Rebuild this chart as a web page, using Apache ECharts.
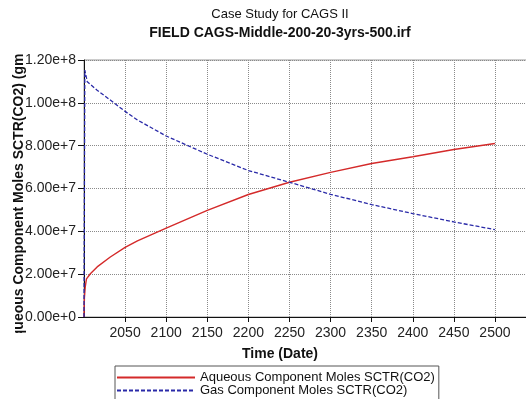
<!DOCTYPE html>
<html>
<head>
<meta charset="utf-8">
<script src="https://cdn.jsdelivr.net/npm/echarts@6/dist/echarts.min.js"></script>
<style>
  html, body { margin: 0; padding: 0; background: #fff; }
  #chart { width: 526px; height: 399px; }
</style>
</head>
<body>
<div id="chart"></div>
<script>
// Aqueous CO2 moles over time
const aqYears = [2000, 2000.5, 2001.5, 2003, 2008, 2016, 2032, 2050, 2065, 2100, 2150, 2200, 2250, 2300, 2350, 2400, 2450, 2500];
const aqMoles = [0, 0.9e7, 1.4e7, 1.78e7, 2.03e7, 2.34e7, 2.8e7, 3.25e7, 3.55e7, 4.15e7, 4.98e7, 5.72e7, 6.29e7, 6.75e7, 7.17e7, 7.48e7, 7.82e7, 8.1e7];

// Gas-phase CO2 moles over time
const gasYears = [2000, 2001, 2004, 2016, 2032, 2050, 2065, 2100, 2150, 2200, 2250, 2300, 2350, 2400, 2450, 2500];
const gasMoles = [0, 1.153e8, 1.098e8, 1.059e8, 1.013e8, 9.6e7, 9.2e7, 8.45e7, 7.6e7, 6.84e7, 6.29e7, 5.73e7, 5.25e7, 4.83e7, 4.44e7, 4.08e7];

const yTickLabels = ['0.00e+0', '2.00e+7', '4.00e+7', '6.00e+7', '8.00e+7', '1.00e+8', '1.20e+8'];
const seriesNames = ['Aqueous Component Moles SCTR(CO2)', 'Gas Component Moles SCTR(CO2)'];

const pair = (xs, ys) => xs.map((x, i) => [x, ys[i]]);

const chart = echarts.init(document.getElementById('chart'));
const FONT = 'Liberation Sans, Arial, sans-serif';
const gridLine = { show: true, lineStyle: { color: '#8a8a8a', type: [1, 1], width: 1 } };

chart.setOption({
  animation: false,
  backgroundColor: '#fff',
  textStyle: { fontFamily: FONT },
  title: [
    { text: 'Case Study for CAGS II', left: 275, top: 3, textAlign: 'center',
      textStyle: { fontFamily: FONT, fontSize: 13, fontWeight: 'normal', color: '#111' } },
    { text: 'FIELD CAGS-Middle-200-20-3yrs-500.irf', left: 275, top: 21, textAlign: 'center',
      textStyle: { fontFamily: FONT, fontSize: 14, fontWeight: 'bold', color: '#111' } },
    { text: 'Time (Date)', left: 275, top: 342, textAlign: 'center',
      textStyle: { fontFamily: FONT, fontSize: 14, fontWeight: 'bold', color: '#111' } }
  ],
  grid: { left: 84, top: 60, right: -1, bottom: 82, outerBoundsMode: 'none', containLabel: false,
    show: true, borderColor: '#999', borderWidth: 1 },
  xAxis: {
    type: 'value', min: 2000, max: 2539, interval: 50,
    axisLine: { lineStyle: { color: '#111', width: 1 } },
    axisTick: { show: true, length: 5, lineStyle: { color: '#111' } },
    axisLabel: { showMinLabel: false, showMaxLabel: false, fontSize: 14, color: '#222', margin: 9, fontFamily: FONT,
      formatter: v => String(v) },
    splitLine: gridLine
  },
  yAxis: {
    type: 'value', min: 0, max: 1.2e8, interval: 2e7,
    name: 'Aqueous Component Moles SCTR(CO2) (gmole)',
    nameLocation: 'middle', nameRotate: 90, nameGap: 58, nameMoveOverlap: false,
    nameTextStyle: { fontFamily: FONT, fontSize: 14, fontWeight: 'bold', color: '#111' },
    axisLine: { show: true, lineStyle: { color: '#111', width: 1 } },
    axisTick: { show: true, length: 6, lineStyle: { color: '#111' } },
    axisLabel: { fontSize: 14, color: '#222', margin: 8, fontFamily: FONT,
      formatter: v => yTickLabels[Math.round(v / 2e7)] },
    splitLine: gridLine
  },
  legend: {
    orient: 'vertical', left: 115, top: 366, height: 60,
    backgroundColor: '#fff', borderColor: '#555', borderWidth: 1,
    padding: [5, 4, 6, 1], itemWidth: 78, itemHeight: 8, itemGap: 0,
    itemStyle: { opacity: 0 },
    textStyle: { fontFamily: FONT, fontSize: 13, color: '#111' },
    data: seriesNames
  },
  graphic: [
    // white bands trimming the vertical axis title
    { type: 'rect', z: 100, shape: { x: 0, y: 0, width: 27, height: 53 }, style: { fill: '#fff' } },
    { type: 'rect', z: 100, shape: { x: 0, y: 333, width: 27, height: 66 }, style: { fill: '#fff' } }
  ],
  series: [
    { name: seriesNames[0], type: 'line', data: pair(aqYears, aqMoles), showSymbol: false, symbol: 'none',
      lineStyle: { color: '#d42a2a', width: 1.4 }, itemStyle: { color: '#d42a2a' }, z: 3 },
    { name: seriesNames[1], type: 'line', data: pair(gasYears, gasMoles), showSymbol: false, symbol: 'none',
      lineStyle: { color: '#2a2aa8', width: 1.3, type: [4, 2] }, itemStyle: { color: '#2a2aa8' }, z: 4 }
  ]
});
</script>
</body>
</html>
